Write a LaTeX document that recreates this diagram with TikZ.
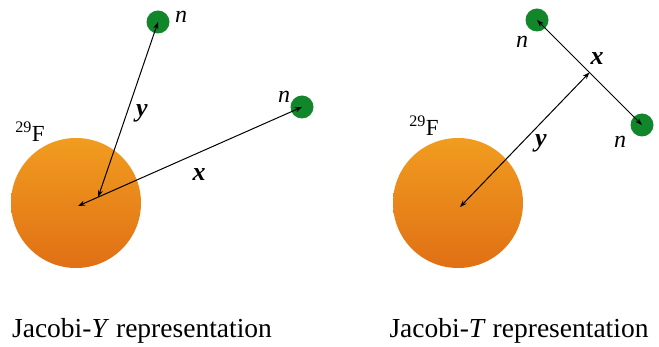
\documentclass[tikz,border=0pt]{standalone}
\usepackage{fontspec}
\setmainfont{Liberation Serif}
\usetikzlibrary{arrows.meta,calc}
\definecolor{orangetop}{RGB}{241,156,32}
\definecolor{orangebot}{RGB}{224,112,20}
\definecolor{neutgreen}{RGB}{18,134,42}
\tikzset{
  nucleus/.style={circle, minimum size=130pt, inner sep=0pt, top color=orangetop, bottom color=orangebot, draw=none},
  neutron/.style={circle, minimum size=23pt, inner sep=0pt, fill=neutgreen, draw=none},
  jarrow/.style={{Stealth[length=7pt,width=5pt]}-{Stealth[length=7pt,width=5pt]}, line width=1pt},
  nlab/.style={font=\fontsize{24}{26}\selectfont\itshape, inner sep=0pt},
  vlab/.style={font=\fontsize{26}{28}\selectfont\bfseries\itshape, inner sep=0pt},
  flab/.style={font=\fontsize{23}{26}\selectfont, inner sep=0pt},
  captext/.style={font=\fontsize{27.5}{30}\selectfont, inner sep=0pt, anchor=base}
}
\begin{document}
\begin{tikzpicture}[x=1pt,y=-1pt]
\useasboundingbox (0,0) rectangle (659,347);
% Jacobi-Y
\node[nucleus] (core1) at (76,203) {};
\coordinate (c1) at (78,206);
\node[neutron] (n1a) at (158,22) {};
\node[neutron] (n1b) at (302,107) {};
\coordinate (y1s) at ($(c1)!0.09!(n1b.center)$);
\draw[jarrow] (c1) -- (n1b.center);
\draw[jarrow] (y1s) -- (n1a.center);
\node[nlab] (ln1a) at (181,17) {n};
\node[nlab] (ln1b) at (284,97) {n};
\node[vlab] (ly1) at (142,113) {y};
\node[vlab] (lx1) at (199,175) {x};
\node[flab] (lf1) at (30,132) {\textsuperscript{29}F};
\node[captext] (cap1) at (142,338) {Jacobi-\textit{Y} representation};
% Jacobi-T
\node[nucleus] (core2) at (458,203) {};
\coordinate (c2) at (460,207);
\node[neutron] (n2a) at (537,20) {};
\node[neutron] (n2b) at (642,125) {};
\coordinate (mid2) at ($(n2a.center)!0.5!(n2b.center)$);
\draw[jarrow] (n2a.center) -- (n2b.center);
\draw[jarrow] (c2) -- (mid2);
\node[nlab] (ln2a) at (522,42) {n};
\node[nlab] (ln2b) at (620,142) {n};
\node[vlab] (lx2) at (597,59) {x};
\node[vlab] (ly2) at (541,143) {y};
\node[flab] (lf2) at (424,126) {\textsuperscript{29}F};
\node[captext] (cap2) at (519,338) {Jacobi-\textit{T} representation};
\end{tikzpicture}
\end{document}
